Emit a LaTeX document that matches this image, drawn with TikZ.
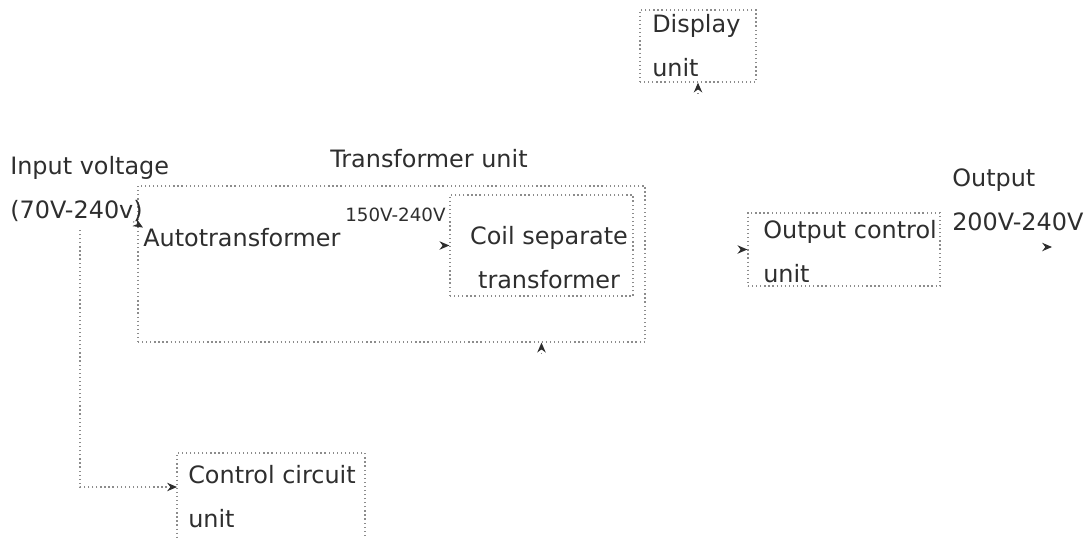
\documentclass[tikz,border=0pt]{standalone}
\usepackage{fontspec}
\setmainfont{DejaVu Sans}
\usetikzlibrary{positioning, arrows.meta}
\definecolor{scanline}{HTML}{8C8C8C}
\definecolor{scantext}{HTML}{2E2E2E}

\begin{document}
\begin{tikzpicture}[x=0.025cm, y=-0.025cm,
    font=\fontsize{17}{30.6}\selectfont,
    unitbox/.style={draw=scanline, dotted, line width=0.9pt, inner sep=0pt},
    txt/.style={text=scantext, inner sep=0pt, anchor=base west, align=left},
    arrin/.style={draw=scanline, dotted, line width=0.9pt,
      {Stealth[length=7pt, width=6pt, color=scantext]}-}]
    \useasboundingbox (0,0) rectangle (1092,539);
    % blokken
    \node[unitbox, minimum width=12.675cm, minimum height=3.9cm] (trafo) at (391.5,264) {};
    \node[unitbox, minimum width=4.575cm, minimum height=2.525cm] (coil) at (541.5,245.5) {};
    \node[unitbox, minimum width=2.9cm, minimum height=1.8cm] (disp) at (698,46) {};
    \node[unitbox, minimum width=4.8cm, minimum height=1.825cm] (outctl) at (844,249.5) {};
    \node[unitbox, minimum width=4.7cm, minimum height=2.675cm] (ctrl) at (271,506.5) {};
    % teksten (ankers op de laatste regel)
    \node[txt] (inp) at (10,218) {Input voltage\\(70V-240v)};
    \node[txt] (trafolbl) at (330,167) {Transformer unit};
    \node[txt] (auto) at (143,246) {Autotransformer};
    \node[txt, font=\fontsize{13}{26}\selectfont] (range) at (345,221) {150V-240V};
    \node[txt, align=center, anchor=base] (coiltxt) at (549,288) {Coil separate\\transformer};
    \node[txt] (disptxt) at (652,76) {Display\\unit};
    \node[txt] (outtxt) at (763,282) {Output control\\unit};
    \node[txt] (outlbl) at (952,230) {Output\\200V-240V};
    \node[txt] (ctrltxt) at (188,527) {Control circuit\\unit};
    % verbindingen
    \coordinate (inpfoot) at (80,228);
    \coordinate (ctrlin) at (177,487);
    \coordinate (outend) at (1052,247);
    \draw[arrin] (ctrlin) -| (inpfoot);
    \draw[arrin] (auto.north west) -- ++(-10,-6);
    \draw[arrin] (coil.west) -- ++(-10,0);
    \draw[arrin] (disp.south) -- ++(0,12);
    \draw[arrin] (coil.south |- trafo.south) -- ++(0,12);
    \draw[arrin] (outctl.west) -- ++(-10,0);
    \draw[arrin] (outend) -- ++(-10,0);
\end{tikzpicture}
\end{document}
